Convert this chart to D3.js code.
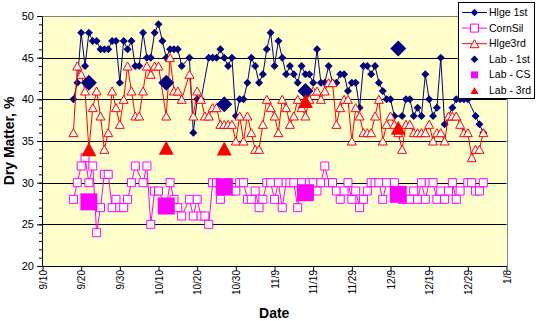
<!DOCTYPE html>
<html>
<head>
<meta charset="utf-8">
<script src="https://cdn.jsdelivr.net/npm/d3@7/dist/d3.min.js"></script>
<style>
  html, body { margin: 0; padding: 0; background: #fff; }
  svg { display: block; font-family: Arial, "Liberation Sans", sans-serif; }
</style>
</head>
<body>
<svg id="chart" width="536" height="321"></svg>
<script>
// Sampling dates are stored as day offsets from the first axis date (9/10).
const startDate = new Date(2003, 8, 10);
const axisDays = 120;
const tickLabels = ["9/10","9/20","9/30","10/10","10/20","10/30","11/9","11/19","11/29","12/9","12/19","12/29","1/8"];
const yTicks = [20, 25, 30, 35, 40, 45, 50];

const hlge1Days = [8,9,10,11,12,13,14,15,16,17,18,19,20,21,22,23,24,25,26,27,28,29,30,31,32,33,34,35,36,38,39,40,41,43,44,45,46,47,48,49,50,51,52,53,54,55,56,57,58,59,60,61,62,63,64,65,66,67,68,69,70,71,72,73,74,75,76,77,78,79,80,81,82,83,84,85,86,87,88,89,90,91,93,94,95,96,97,98,99,100,101,102,103,104,106,107,108,109,110,112,113,114];
const hlge1Vals = [40,42,48,44,48,47,47,46,46,46,47,47,42,47,46,47,44,44,48,45,45,48,49,47,45,46,46,46,44,45,36,40,40,45,45,45,46,45,44,45,38,40,40,42,45,44,42,43,46,48,44,47,45,43,44,43,42,44,43,43,42,46,42,42,44,42,42,43,43,41,42,42,39,44,44,43,44,42,41,40,40,38,38,40,40,38,39,38,43,40,38,39,45,37,39,40,40,40,40,38,37,36];

const cornDays = [8,9,10,11,12,13,14,15,16,17,18,19,20,21,22,23,24,26,27,28,29,30,32,33,34,35,36,38,39,40,41,42,43,44,45,46,48,49,50,51,52,53,54,55,56,57,58,59,60,61,62,63,64,65,66,67,69,70,71,72,73,74,75,76,77,78,79,80,81,82,83,84,85,86,87,88,89,91,93,94,95,96,97,98,99,100,101,102,103,104,105,106,107,108,110,111,112,113,114];
const cornVals = [28,30,32,33,30,32,24,27,31,31,27,28,27,27,28,30,32,30,32,25,29,29,27,30,28,27,26,28,26,28,26,26,25,30,30,28,30,29,29,30,30,28,28,29,27,28,30,30,28,30,27,30,30,30,27,30,30,30,29,30,32,30,30,29,28,29,30,28,29,27,28,29,30,30,30,28,30,30,28,28,28,29,28,30,28,30,30,28,29,28,29,30,28,29,30,30,29,29,30];

const hlge3Days = [8,9,10,11,12,13,14,15,16,17,18,19,20,21,22,23,24,25,26,27,28,29,30,32,33,34,35,36,38,39,40,41,42,43,44,45,46,47,48,49,50,51,52,53,54,55,56,57,58,59,60,61,62,63,64,65,66,67,68,69,70,71,72,73,74,75,76,77,78,79,80,81,82,83,84,85,86,87,88,89,90,91,92,93,94,95,96,97,98,99,100,101,102,103,104,105,106,107,108,109,110,111,112,113,114];
const hlge3Vals = [36,44,43,41,34,39,41,38,34,36,41,39,37,40,44,41,38,38,41,44,43,44,44,38,45,41,41,40,43,38,41,40,38,38,39,39,37,37,37,37,35,38,35,38,36,34,34,37,40,39,38,36,40,39,37,38,40,39,38,40,41,41,40,41,42,42,37,39,40,40,35,39,38,36,36,36,38,40,35,37,38,37,36,34,37,37,36,36,36,36,37,35,36,36,35,38,38,38,37,36,36,33,34,34,36];

const labDays = [12, 32, 47, 68, 92];
const lab1Vals = [42, 42, 39.4, 41, 46.1];
const labCSVals = [27.7, 27.2, 29.5, 28.8, 28.6];
const lab3Vals = [34, 34.2, 34.1, 39.8, 36.6];

const NAVY = "#000080", MAGENTA = "#ff00ff", RED = "#ff0000";

const svg = d3.select("#chart");
const plot = { left: 42, right: 506.5, top: 16, bottom: 266 };

const day = d => d3.timeDay.offset(startDate, d);
const x = d3.scaleTime().domain([startDate, day(axisDays)]).range([plot.left + 0.5, plot.right]);
const y = d3.scaleLinear().domain([20, 50]).range([plot.bottom, plot.top]);
const crisp = v => Math.round(v) + 0.5;

// plot background
svg.append("rect")
  .attr("x", plot.left).attr("y", plot.top)
  .attr("width", plot.right - plot.left).attr("height", plot.bottom - plot.top)
  .attr("fill", "#ffffcc");

// horizontal gridlines
svg.append("g").selectAll("line")
  .data(yTicks.filter(v => v > 20 && v < 50))
  .join("line")
  .attr("x1", plot.left).attr("x2", plot.right)
  .attr("y1", d => crisp(y(d))).attr("y2", d => crisp(y(d)))
  .attr("stroke", "#000").attr("stroke-width", 1);

// grey frame on top and right
svg.append("path")
  .attr("d", `M${plot.left},${crisp(y(50))}H${crisp(plot.right)}V${plot.bottom}`)
  .attr("fill", "none").attr("stroke", "#808080").attr("stroke-width", 1);

// y axis: minor ticks every unit, major ticks with labels every 5
const yMinor = svg.append("g").attr("transform", `translate(${plot.left},0)`)
  .call(d3.axisLeft(y).tickValues(d3.range(20, 51)).tickSize(3).tickFormat(""));
yMinor.select(".domain").remove();
const yAxis = svg.append("g").attr("transform", `translate(${plot.left},0)`)
  .call(d3.axisLeft(y).tickValues(yTicks).tickSize(5).tickPadding(3).tickSizeOuter(0));
yAxis.selectAll("text").attr("font-size", 11).attr("fill", "#000").attr("font-family", "Arial, 'Liberation Sans', sans-serif");
svg.selectAll(".tick line, .domain").attr("stroke", "#000");

// x axis
const tickDates = tickLabels.map((_, i) => day(i * 10));
const xAxis = svg.append("g").attr("transform", `translate(0,${plot.bottom})`)
  .call(d3.axisBottom(x).tickValues(tickDates).tickFormat((d, i) => tickLabels[i]).tickSize(5).tickSizeOuter(0));
xAxis.selectAll(".tick line, .domain").attr("stroke", "#000");
xAxis.selectAll("text")
  .attr("font-size", 10).attr("fill", "#000")
  .attr("font-family", "Arial, 'Liberation Sans', sans-serif")
  .attr("text-anchor", "end")
  .attr("transform", "rotate(-90)")
  .attr("x", -4).attr("y", 0).attr("dy", "0.35em");

// axis titles
svg.append("text")
  .attr("transform", `translate(14,141) rotate(-90)`)
  .attr("text-anchor", "middle")
  .attr("font-size", 14).attr("font-weight", "bold")
  .text("Dry Matter, %");
svg.append("text")
  .attr("x", (plot.left + plot.right) / 2).attr("y", 318)
  .attr("text-anchor", "middle")
  .attr("font-size", 14).attr("font-weight", "bold")
  .text("Date");

// marker shapes
const diamond = r => `M0,${-r}L${r},0L0,${r}L${-r},0Z`;
const triangle = (w, h) => `M0,${-h / 2}L${w / 2},${h / 2}L${-w / 2},${h / 2}Z`;
const square = s => `M${-s / 2},${-s / 2}h${s}v${s}h${-s}Z`;

const zip = (days, vals) => days.map((d, i) => ({ date: day(d), v: vals[i] }));
const line = d3.line().x(d => x(d.date)).y(d => y(d.v));

function drawSeries(data, color, shape, fill) {
  const g = svg.append("g");
  g.append("path").datum(data)
    .attr("d", line).attr("fill", "none")
    .attr("stroke", color).attr("stroke-width", 1);
  g.selectAll("path.m").data(data).join("path")
    .attr("class", "m")
    .attr("transform", d => `translate(${x(d.date)},${y(d.v)})`)
    .attr("d", shape)
    .attr("fill", fill)
    .attr("stroke", fill === color ? "none" : color)
    .attr("stroke-width", 1);
}

function drawMarkers(data, color, shape) {
  svg.append("g").selectAll("path").data(data).join("path")
    .attr("transform", d => `translate(${x(d.date)},${y(d.v)})`)
    .attr("d", shape).attr("fill", color);
}

drawSeries(zip(hlge1Days, hlge1Vals), NAVY, diamond(4), NAVY);
drawSeries(zip(cornDays, cornVals), MAGENTA, square(8), "#fff");
drawSeries(zip(hlge3Days, hlge3Vals), RED, triangle(9, 8), "#fff");
drawMarkers(zip(labDays, lab1Vals), NAVY, diamond(8));
drawMarkers(zip(labDays, labCSVals), MAGENTA, square(17));
drawMarkers(zip(labDays, lab3Vals), RED, triangle(15, 14));

// legend
const legendItems = [
  { name: "Hlge 1st", color: NAVY, shape: diamond(3.8), fill: NAVY, line: true },
  { name: "CornSil", color: MAGENTA, shape: square(8), fill: "#fff", line: true },
  { name: "Hlge3rd", color: RED, shape: triangle(9, 8), fill: "#fff", line: true },
  { name: "Lab - 1st", color: NAVY, shape: diamond(3.8), fill: NAVY, line: false },
  { name: "Lab - CS", color: MAGENTA, shape: square(7), fill: MAGENTA, line: false },
  { name: "Lab - 3rd", color: RED, shape: triangle(8, 7), fill: RED, line: false }
];
const legend = svg.append("g");
legend.append("rect")
  .attr("x", 458.5).attr("y", 2.5).attr("width", 76).attr("height", 96)
  .attr("fill", "#fff").attr("stroke", "#000").attr("stroke-width", 1);
const li = legend.selectAll("g.item").data(legendItems).join("g")
  .attr("class", "item")
  .attr("transform", (d, i) => `translate(0,${12 + i * 15.6})`);
li.filter(d => d.line).append("line")
  .attr("x1", 462).attr("x2", 487).attr("y1", 0.5).attr("y2", 0.5)
  .attr("stroke", d => d.color).attr("stroke-width", 1);
li.append("path")
  .attr("transform", "translate(474.5,0.5)")
  .attr("d", d => d.shape)
  .attr("fill", d => d.fill)
  .attr("stroke", d => d.fill === d.color ? "none" : d.color);
li.append("text")
  .attr("x", 489).attr("y", 4)
  .attr("font-size", 10.5).attr("fill", "#000")
  .text(d => d.name);
</script>
</body>
</html>
